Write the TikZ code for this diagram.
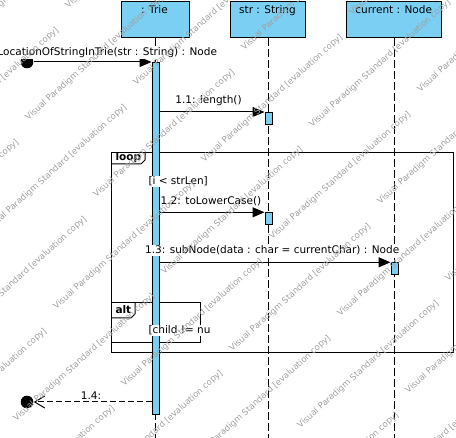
\documentclass[tikz,border=0pt]{standalone}
\usepackage{fontspec}
\setmainfont{DejaVu Sans}
\usetikzlibrary{arrows.meta}
\definecolor{vpblue}{RGB}{122,207,243}
\definecolor{wmgray}{RGB}{160,160,160}
\newcommand{\fsz}{\fontsize{10.5}{12.5}\selectfont}
\newcommand{\wmsz}{\fontsize{8.5}{10}\selectfont}
\begin{document}
\begin{tikzpicture}[x=1pt,y=-1pt,line width=1pt,
  objbox/.style={draw,fill=vpblue,inner sep=0pt,anchor=north west},
  lifeline/.style={dash pattern=on 8pt off 3pt},
  actbar/.style={draw,fill=vpblue,inner sep=0pt,minimum width=7.5pt,anchor=north west},
  msg/.style={-{Triangle[length=12pt,width=10pt]}},
  retmsg/.style={dash pattern=on 6pt off 3pt,-{Straight Barb[length=10pt,width=12pt,line width=1pt]}},
  lbl/.style={fill=white,inner xsep=1pt,inner ysep=1pt,anchor=base,font=\fsz},
  title/.style={inner sep=0pt,anchor=base,font=\fsz},
  frametag/.style={inner sep=0pt,anchor=base west,font=\fsz\bfseries},
  frm/.style={draw,inner sep=0pt,anchor=north west},
  endpoint/.style={circle,fill=black,inner sep=0pt,minimum size=12.6pt},
  wm/.style={inner sep=0pt,anchor=base west,rotate=42,text=wmgray,font=\wmsz}]
\useasboundingbox (0,0) rectangle (456,438);
\coordinate (bottom) at (0,438);

% combined fragments
\node[frm,minimum width=341.7pt,minimum height=199.4pt] (loopfr) at (111,152.3) {};
\draw (loopfr.north west) ++(0,11.7) coordinate (lt1) -- ++(30,0) -- ++(4,-4) -- ++(0,-7.7);
\node[frm,minimum width=89.3pt,minimum height=40pt] (altfr) at (111,302.3) {};
\draw (altfr.north west) ++(0,15.7) coordinate (at1) -- ++(20,0) -- ++(4,-4) -- ++(0,-11.7);

% lifeline heads
\node[objbox,minimum width=68pt,minimum height=35.5pt] (trie) at (121,1.5) {};
\node[objbox,minimum width=75pt,minimum height=35.5pt] (str) at (230,1.5) {};
\node[objbox,minimum width=95pt,minimum height=35.5pt] (cur) at (346,1.5) {};
\node[title] (trieT) at (154.5,13.3) {: Trie};
\node[title] (strT) at (267.5,13.5) {str : String};
\node[title] (curT) at (393.7,13.5) {current : Node};

% lifelines
\draw[lifeline] (trie.south) -- (trie.south |- bottom);
\draw[lifeline] (str.south) -- (str.south |- bottom);
\draw[lifeline] (cur.south) -- (cur.south |- bottom);

% activations
\node[actbar,minimum height=352pt] (trieact) at (151.5,62) {};
\node[actbar,minimum height=12pt] (stract1) at (264.5,112) {};
\node[actbar,minimum height=12pt] (stract2) at (264.5,212.3) {};
\node[actbar,minimum height=12pt] (curact) at (390.5,262.3) {};

% found message
\node[endpoint] (start) at (27,62) {};
\draw[msg] (start) -- (trieact.north west);
\node[lbl,anchor=base east] (m0) at (218.5,55.5) {LocationOfStringInTrie(str : String) : Node};

% 1.1
\draw[msg] (trieact.east |- stract1.north west) -- (stract1.north west);
\node[lbl] (m1) at (208.5,104) {1.1: length()};

% loop
\node[frametag] (loopT) at (115,161) {loop};
\node[lbl,anchor=base west] (g1) at (147,185) {[i < strLen]};

% 1.2
\draw[msg] (trieact.east |- stract2.north west) -- (stract2.north west);
\node[lbl] (m2) at (211,205) {1.2: toLowerCase()};

% 1.3
\draw[msg] (trieact.east |- curact.north west) -- (curact.north west);
\node[lbl] (m3) at (272.2,254) {1.3: subNode(data : char = currentChar) : Node};

% alt
\node[frametag] (altT) at (115,313.3) {alt};
\node[lbl,anchor=base west] (g2) at (147,334) {[child != nu};

% return 1.4
\node[endpoint] (finish) at (27,402) {};
\coordinate (r14) at (151.5,402);
\draw[retmsg] (r14) -- (finish);
\node[lbl,inner xsep=4pt] (m4) at (91,400) {1.4:};

% watermark
\begin{scope}
\clip (0,0) rectangle (456,438);
\foreach \a in {-4,...,5}{
  \foreach \b in {-6,...,3}{
    \node[wm] (wm\a\b) at ({232+108*\a+68*\b},{352-35*\a+77*\b}) {Visual Paradigm Standard [evaluation copy]};
  }
}
\end{scope}
\end{tikzpicture}
\end{document}
